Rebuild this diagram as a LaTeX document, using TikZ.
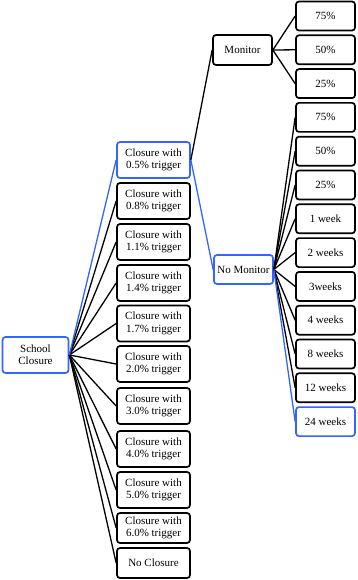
\documentclass[tikz,border=0pt]{standalone}
\usepackage{fontspec}
\setmainfont{Liberation Serif}
\definecolor{hblue}{RGB}{51,102,255}
\begin{document}
\begin{tikzpicture}[x=1pt,y=-1pt,
  box/.style={draw=black,line width=1.7pt,rounded corners=3pt,fill=white,align=center,
    inner sep=1pt,font=\fontsize{11}{12.3}\selectfont},
  hbox/.style={box,draw=hblue},
  cbox/.style={minimum width=73pt,minimum height=36pt},
  rbox/.style={minimum width=59pt,minimum height=29pt},
  conn/.style={line width=1.3pt,black},
  hconn/.style={line width=1.3pt,hblue}]
\useasboundingbox (0,0) rectangle (358,580);
\node[hbox,minimum width=66pt,minimum height=36pt] (sc) at (35.5,355) {School\\Closure};
\node[hbox,cbox] (c1) at (153.5,160) {Closure with\\0.5\% trigger};
\node[box,cbox] (c2) at (153.5,201) {Closure with\\0.8\% trigger};
\node[box,cbox] (c3) at (153.5,242) {Closure with\\1.1\% trigger};
\node[box,cbox] (c4) at (153.5,283) {Closure with\\1.4\% trigger};
\node[box,cbox] (c5) at (153.5,323.5) {Closure with\\1.7\% trigger};
\node[box,cbox] (c6) at (153.5,364) {Closure with\\2.0\% trigger};
\node[box,cbox] (c7) at (153.5,406) {Closure with\\3.0\% trigger};
\node[box,cbox] (c8) at (153.5,449) {Closure with\\4.0\% trigger};
\node[box,cbox] (c9) at (153.5,490) {Closure with\\5.0\% trigger};
\node[box,cbox,minimum height=30pt] (c10) at (153.5,528) {Closure with\\6.0\% trigger};
\node[box,cbox,minimum height=30pt] (c11) at (153.5,563) {No Closure};
\node[box,rbox,minimum height=30pt] (mon) at (242.5,50) {Monitor};
\node[hbox,rbox] (nomon) at (243.5,269.5) {No Monitor};
\node[box,rbox] (r1) at (325.5,16) {75\%};
\node[box,rbox] (r2) at (325.5,49.8) {50\%};
\node[box,rbox] (r3) at (325.5,83.6) {25\%};
\node[box,rbox] (r4) at (325.5,117.4) {75\%};
\node[box,rbox] (r5) at (325.5,151.2) {50\%};
\node[box,rbox] (r6) at (325.5,185) {25\%};
\node[box,rbox] (r7) at (325.5,218.8) {1 week};
\node[box,rbox] (r8) at (325.5,252.6) {2 weeks};
\node[box,rbox] (r9) at (325.5,286.4) {3weeks};
\node[box,rbox] (r10) at (325.5,320.2) {4 weeks};
\node[box,rbox] (r11) at (325.5,354) {8 weeks};
\node[box,rbox] (r12) at (325.5,387.8) {12 weeks};
\node[hbox,rbox] (r13) at (325.5,421.6) {24 weeks};
\foreach \i in {2,...,11} \draw[conn] (sc.east) -- (c\i.west);
\foreach \i in {1,2,3} \draw[conn] (mon.east) -- (r\i.west);
\foreach \i in {4,...,12} \draw[conn] (nomon.east) -- (r\i.west);
\draw[conn] (c1.east) -- (mon.west);
\draw[hconn] (sc.east) -- (c1.west);
\draw[hconn] (c1.east) -- (nomon.west);
\draw[hconn] (nomon.east) -- (r13.west);
\end{tikzpicture}
\end{document}
